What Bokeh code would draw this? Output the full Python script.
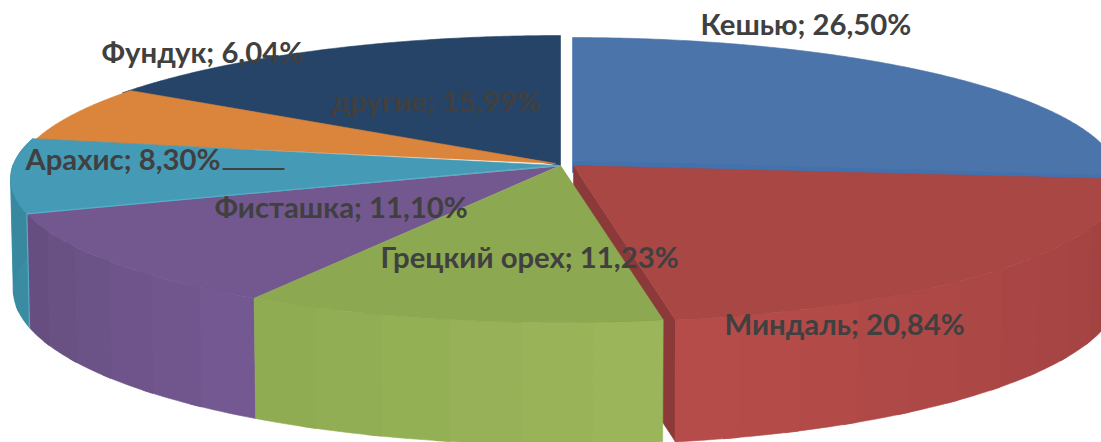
import math
from bokeh.plotting import figure
from bokeh.models import Range1d
from bokeh.core.properties import value
from bokeh.embed import file_html
from bokeh.resources import INLINE

# ---- data ----
categories = ["Кешью", "Миндаль", "Грецкий орех", "Фисташка", "Арахис", "Фундук", "другие"]
shares = [26.50, 20.84, 11.23, 11.10, 8.30, 6.04, 15.99]

# ---- style ----
top_colors = ["#4A74AA", "#A94745", "#8CA850", "#73588F", "#459BB5", "#DA843C", "#264468"]
wall_from = [None, "#9E4140", "#9AB55A", "#745892", "#3A8CA2", None, None]
wall_to = [None, "#B64C4A", "#90AC52", "#664F80", "#38889E", None, None]
rim_shift = [(14, 2), (17, 0), (0, 0), (0, 0), (0, 0), (4, 0), (2, 0)]
apex_shift = [(14, -5), (15, 0), (2, 0), (-1, 1), (-1, 0), (-3, -2), (2, 0)]
angle_pad = [(0, 0), (0, 0), (-0.45, 0), (0, 0), (0, 0.4), (0, 1.2), (0, 0)]
label_pos = [(700, 23), (724, 323), (380, 256), (214, 206), (25, 158), (101, 51), (331, 100)]
label_size = "29.3px"
FONT = "Lato"
TEXT = "#404040"

CX, CY = 558.0, 165.0
A, B, K = 545.5, 142.2, 0.0942   # projected pie disc
DEPTH = 110.5
SHRINK = 0.995


def disc(theta, dx=0.0, dy=0.0):
    """Clockwise angle from 12 o'clock -> page pixels, with perspective."""
    t = math.radians(theta)
    u, v = math.sin(t), math.cos(t)
    w = 1 + K * v
    return CX + A * u / w + dx, CY - B * v / w + dy, w


def base(theta, dx=0.0, dy=0.0):
    x, y, w = disc(theta, dx, dy)
    return CX + dx + (x - CX - dx) * SHRINK, y + DEPTH / w


def lerp(c1, c2, f):
    a = [int(c1[i:i + 2], 16) for i in (1, 3, 5)]
    b = [int(c2[i:i + 2], 16) for i in (1, 3, 5)]
    return "#%02X%02X%02X" % tuple(round(p + (q - p) * f) for p, q in zip(a, b))


total = sum(shares)
edges = [0.0]
for s in shares:
    edges.append(edges[-1] + 360.0 * s / total)


def top_poly(i):
    a0 = edges[i] + angle_pad[i][0]
    a1 = edges[i + 1] + angle_pad[i][1]
    n = max(2, int((a1 - a0) * 2))
    dx, dy = rim_shift[i]
    pts = [disc(a0 + (a1 - a0) * k / n, dx, dy)[:2] for k in range(n + 1)]
    ax, ay = apex_shift[i]
    xs = [CX + ax] + [q[0] for q in pts]
    ys = [CY + ay] + [q[1] for q in pts]
    return xs, ys


def wall_polys(i):
    a0 = edges[i] + angle_pad[i][0]
    a1 = edges[i + 1] + angle_pad[i][1]
    dx, dy = rim_shift[i]
    n = max(2, int((a1 - a0) / 6.0))
    out = []
    for k in range(n):
        b0 = a0 + (a1 - a0) * k / n
        # every band runs on under the next one, so that no seam shows
        b1 = min(a1, a0 + (a1 - a0) * (k + 1) / n + 1.5)
        sub = [b0 + (b1 - b0) * j / 8 for j in range(9)]
        tops = [disc(t, dx, dy)[:2] for t in sub]
        bots = [base(t, dx, dy) for t in reversed(sub)]
        xs = [q[0] for q in tops] + [q[0] for q in bots]
        ys = [q[1] for q in tops] + [q[1] for q in bots]
        out.append((xs, ys, lerp(wall_from[i], wall_to[i], k / max(1, n - 1))))
    return out


P_X, P_Y, P_C = [], [], []


def add(xs, ys, c):
    P_X.append(xs)
    P_Y.append(ys)
    P_C.append(c)


# Painter's order, back to front
add(*top_poly(6), top_colors[6])
add(*top_poly(5), top_colors[5])

# cashew slice with its thin lit cut-face
add(*top_poly(0), top_colors[0])
rim0 = disc(edges[1], *rim_shift[0])
ax0, ay0 = CX + apex_shift[0][0], CY + apex_shift[0][1]
add([ax0, rim0[0], rim0[0], ax0], [ay0, rim0[1] - 5, rim0[1] + 12, ay0 + 12], "#4272AE")

# almond: cut-face, wall, top
rx, ry, rw = disc(edges[2], *rim_shift[1])
ax1, ay1 = CX + apex_shift[1][0], CY + apex_shift[1][1]
add([ax1, rx, rx, ax1], [ay1, ry, ry + DEPTH / rw, ay1 + DEPTH / rw], "#8C3A39")
for w in wall_polys(1):
    add(*w)
add(*top_poly(1), top_colors[1])

# peanut
for w in wall_polys(4):
    add(*w)
add(*top_poly(4), top_colors[4])

# pistachio
for w in wall_polys(3):
    add(*w)
add(*top_poly(3), top_colors[3])

# walnut
for w in wall_polys(2):
    add(*w)
add(*top_poly(2), top_colors[2])

p = figure(width=1101, height=442, output_backend="svg", toolbar_location=None,
           x_range=Range1d(0, 1101), y_range=Range1d(442, 0),
           min_border=0, outline_line_color=None, background_fill_color="white")
p.axis.visible = False
p.grid.visible = False

p.patches(P_X, P_Y, fill_color=P_C, line_color=P_C, line_width=0.6)

# lit edge where peanut meets pistachio
e = edges[4]
ex, ey, _ = disc(e)
bx, by = base(e)
p.line([CX, ex, bx], [CY, ey, by], line_color="#55ADC6", line_width=1.3)

# labels
lab_text = [f"{c}; {v:.2f}%".replace(".", ",") for c, v in zip(categories, shares)]
p.text(x=[q[0] for q in label_pos], y=[q[1] for q in label_pos], text=lab_text,
       text_font=value(FONT), text_font_style="bold", text_font_size=label_size,
       text_color=TEXT, text_align="left", text_baseline="alphabetic")

# leader line of the peanut label
p.line([222, 284], [168.5, 168.5], line_color=TEXT, line_width=2)

open("out.html", "w").write(file_html(p, INLINE))
